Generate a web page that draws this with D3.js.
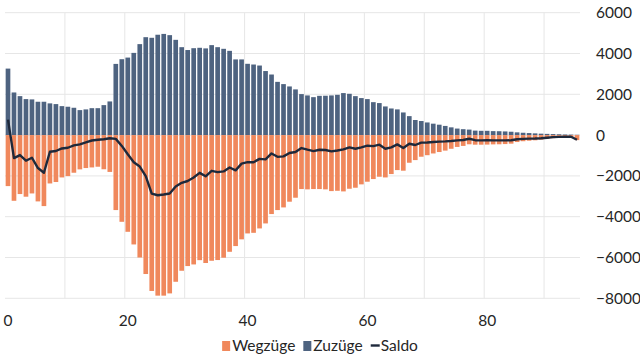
<!DOCTYPE html>
<html><head><meta charset="utf-8">
<script src="https://cdn.jsdelivr.net/npm/d3@7"></script>
<style>body{margin:0;background:#fff}svg{display:block}text{font-family:Lato,"Open Sans",sans-serif}</style>
</head><body><svg id="c" width="640" height="360"></svg>
<script>
const ages = d3.range(0, 96);
const zuzuege = [3260,2090,1910,1765,1750,1635,1635,1555,1520,1420,
  1390,1340,1225,1260,1320,1320,1470,1650,3490,3720,
  3800,4030,4460,4800,4770,4920,4960,4900,4670,4310,
  4170,4260,4280,4250,4410,4310,4230,4130,3710,3710,
  3495,3460,3410,3140,2970,2610,2500,2385,2240,2010,
  1945,1860,1925,1930,1945,1975,2060,2025,1910,1815,
  1765,1615,1570,1405,1305,1260,1110,930,740,690,
  620,560,510,450,380,320,290,270,220,210,
  210,195,190,180,165,135,115,100,85,70,
  60,50,40,30,25,15];
const wegzuege = [-2500,-3220,-2890,-3020,-2860,-3250,-3480,-2370,-2300,-2075,
  -2010,-1845,-1680,-1615,-1585,-1550,-1675,-1805,-3675,-4250,
  -4740,-5360,-6000,-6810,-7640,-7870,-7870,-7760,-7190,-6650,
  -6420,-6340,-6130,-6270,-6160,-6125,-6010,-5720,-5440,-5110,
  -4820,-4790,-4575,-4330,-3870,-3675,-3545,-3265,-3070,-2645,
  -2660,-2645,-2645,-2660,-2745,-2730,-2760,-2630,-2580,-2415,
  -2285,-2155,-2040,-2075,-1910,-1715,-1745,-1355,-1225,-1060,
  -985,-900,-830,-760,-670,-580,-530,-450,-470,-470,
  -465,-455,-450,-440,-420,-340,-300,-275,-255,-225,
  -190,-150,-125,-110,-105,-245];
const saldo = [760,-1130,-980,-1255,-1110,-1615,-1845,-815,-780,-655,
  -620,-505,-455,-355,-265,-230,-205,-155,-185,-530,
  -940,-1330,-1540,-2010,-2870,-2950,-2910,-2860,-2520,-2340,
  -2250,-2080,-1850,-2020,-1750,-1815,-1780,-1590,-1730,-1400,
  -1325,-1330,-1165,-1190,-900,-1065,-1045,-880,-830,-635,
  -715,-785,-720,-730,-800,-755,-700,-605,-670,-600,
  -520,-540,-470,-670,-605,-455,-635,-425,-485,-370,
  -365,-340,-320,-310,-290,-260,-240,-180,-250,-260,
  -255,-260,-260,-260,-255,-205,-185,-175,-170,-155,
  -130,-100,-85,-80,-80,-230];
const xTickValues = [0, 20, 40, 60, 80];
const yTickValues = [-8000, -6000, -4000, -2000, 0, 2000, 4000, 6000];
const gridAges = [10, 20, 30, 40, 50, 60, 70, 80, 90];
const seriesNames = ["Wegzüge", "Zuzüge", "Saldo"];

const colWeg = "#f0885c", colZu = "#4e6380", colSaldo = "#1e293b";
const svg = d3.select("#c");
const x = d3.scaleBand().domain(ages).range([5, 580]).paddingInner(0.22).paddingOuter(0.11);
const y = d3.scaleLinear().domain([-8000, 6000]).range([298.3, 12.7]);
const gap = (x.step() - x.bandwidth()) / 2;

// grid
svg.append("g").selectAll("line").data(yTickValues).join("line")
  .attr("x1", 5).attr("x2", 580).attr("y1", d => y(d)).attr("y2", d => y(d))
  .attr("stroke", "#e6e6e6").attr("stroke-width", 1);
svg.append("g").selectAll("line").data(gridAges).join("line")
  .attr("x1", d => x(d) - gap).attr("x2", d => x(d) - gap)
  .attr("y1", y(6000)).attr("y2", y(-8000))
  .attr("stroke", "#e6e6e6").attr("stroke-width", 1);

// bars
svg.append("g").selectAll("rect").data(ages).join("rect")
  .attr("x", d => x(d)).attr("width", x.bandwidth())
  .attr("y", d => y(zuzuege[d])).attr("height", d => y(0) - y(zuzuege[d]))
  .attr("fill", colZu);
svg.append("g").selectAll("rect").data(ages).join("rect")
  .attr("x", d => x(d)).attr("width", x.bandwidth())
  .attr("y", y(0)).attr("height", d => y(wegzuege[d]) - y(0))
  .attr("fill", colWeg);

// line
const line = d3.line().x(d => x(d) + x.bandwidth() / 2).y(d => y(saldo[d]));
svg.append("path").datum(ages).attr("d", line)
  .attr("fill", "none").attr("stroke", colSaldo).attr("stroke-width", 2.4)
  .attr("stroke-linejoin", "round");

// axes
const yAxis = svg.append("g").attr("transform", "translate(590,0)")
  .call(d3.axisRight(y).tickValues(yTickValues).tickSize(0).tickPadding(6).tickFormat(d3.format("d")));
yAxis.select(".domain").remove();
yAxis.selectAll("text").attr("font-size", 15.5).attr("fill", "#262626").attr("font-family", "Lato");

const xAxis = svg.append("g").attr("transform", "translate(0,300)")
  .call(d3.axisBottom(x).tickValues(xTickValues).tickSize(0).tickPadding(14.5));
xAxis.select(".domain").remove();
xAxis.selectAll("text").attr("font-size", 15.5).attr("fill", "#262626").attr("font-family", "Lato");

// legend
const lg = svg.append("g");
const items = lg.selectAll("g").data(seriesNames).join("g");
items.append("text").text(d => d).attr("font-size", 15.5).attr("fill", "#262626")
  .attr("font-family", "Lato").attr("y", 351);
let cx = 0; const pos = [];
items.each(function(d, i) {
  const w = d3.select(this).select("text").node().getComputedTextLength();
  pos.push(cx); cx += 10 + w + 8;
});
const total = cx - 8, start = 320 - total / 2;
items.attr("transform", (d, i) => `translate(${start + pos[i]},0)`);
items.select("text").attr("x", 10);
items.filter((d, i) => i < 2).append("rect").attr("x", 0).attr("y", 341).attr("width", 8).attr("height", 10)
  .attr("fill", (d, i) => i === 0 ? colWeg : colZu);
items.filter((d, i) => i === 2).append("line").attr("x1", 0).attr("x2", 9).attr("y1", 345.5).attr("y2", 345.5)
  .attr("stroke", colSaldo).attr("stroke-width", 2.4);
</script></body></html>
